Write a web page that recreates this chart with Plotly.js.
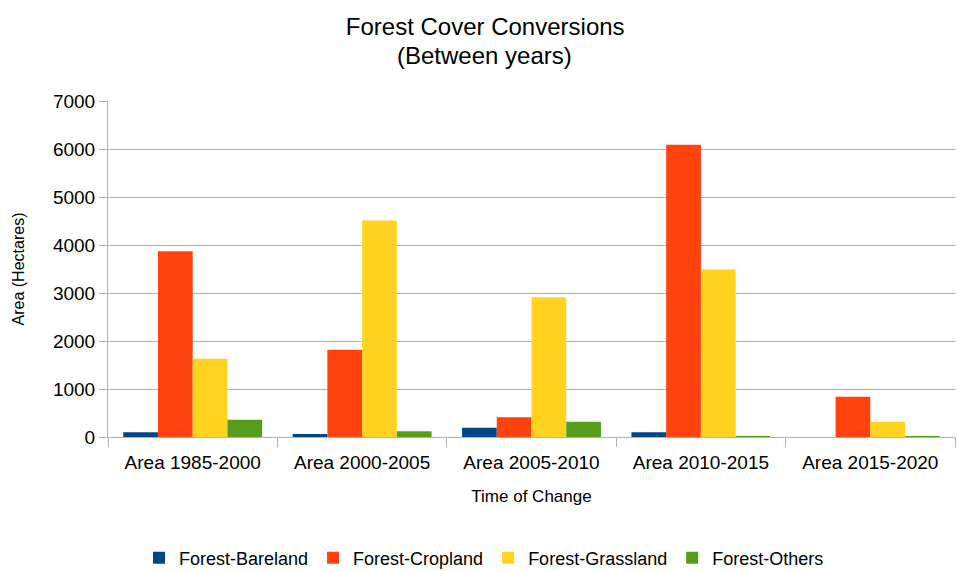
<!DOCTYPE html>
<html>
<head>
<meta charset="utf-8">
<script src="https://cdn.plot.ly/plotly-3.0.1.min.js"></script>
<style>html,body{margin:0;padding:0;background:#fff;}#chart{width:957px;height:571px;}</style>
</head>
<body>
<div id="chart"></div>
<script>
const categories = ["Area 1985-2000", "Area 2000-2005", "Area 2005-2010", "Area 2010-2015", "Area 2015-2020"];
const seriesNames = ["Forest-Bareland", "Forest-Cropland", "Forest-Grassland", "Forest-Others"];
const bareland = [100, 60, 195, 100, 0];
const cropland = [3870, 1820, 410, 6090, 840];
const grassland = [1630, 4510, 2910, 3490, 320];
const others = [360, 120, 320, 20, 20];
const yTicks = [0, 1000, 2000, 3000, 4000, 5000, 6000, 7000];

const colors = ["#004586", "#ff420e", "#ffd320", "#579d1c"];
const values = [bareland, cropland, grassland, others];
const font = "Liberation Sans, Arial, sans-serif";

const data = seriesNames.map((n, i) => ({
  type: "bar",
  name: n,
  x: categories,
  y: values[i],
  marker: {color: colors[i], line: {width: 0}}
}));

const layout = {
  width: 957, height: 571,
  margin: {l: 108, r: 2, t: 101, b: 134, autoexpand: false},
  paper_bgcolor: "#fff", plot_bgcolor: "#fff",
  font: {family: font, color: "#000"},
  title: {text: "Forest Cover Conversions", x: 0.507, xanchor: "center", y: 1 - 27/571, yanchor: "middle", font: {size: 24, family: font, color: "#000"}},
  annotations: [{
    text: "(Between years)", xref: "paper", yref: "paper", x: (484 - 108) / 847, xanchor: "center",
    y: 1 + (101 - 55) / 336, yanchor: "middle",
    showarrow: false, font: {size: 24, family: font, color: "#000"}
  }],
  barmode: "group",
  bargap: 0.18,
  bargroupgap: 0,
  xaxis: {
    showgrid: false, showline: true, linecolor: "#b3b3b3", linewidth: 1,
    ticks: "outside", tickson: "boundaries", ticklen: 9, tickcolor: "#b3b3b3",
    ticklabelstandoff: 8,
    tickfont: {size: 19, family: font, color: "#000"},
    title: {text: "Time of Change", font: {size: 17, family: font, color: "#000"}, standoff: 18}
  },
  yaxis: {
    range: [0, 7000], tickvals: yTicks, ticktext: yTicks.map(String),
    showgrid: true, gridcolor: "#b3b3b3", gridwidth: 1,
    showline: true, linecolor: "#b3b3b3", zeroline: false,
    ticks: "outside", ticklen: 8, tickcolor: "#b3b3b3",
    tickfont: {size: 19, family: font, color: "#000"},
    title: {text: "Area (Hectares)", font: {size: 16, family: font, color: "#000"}, standoff: 24}
  },
  legend: {orientation: "h", x: (484 - 108) / 847, xanchor: "center", y: -(558 - 437) / 336, yanchor: "middle", font: {size: 18, family: font, color: "#000"}, itemwidth: 30, traceorder: "normal"},
  showlegend: true
};

Plotly.newPlot("chart", data, layout, {displayModeBar: false, staticPlot: true});
</script>
</body>
</html>
